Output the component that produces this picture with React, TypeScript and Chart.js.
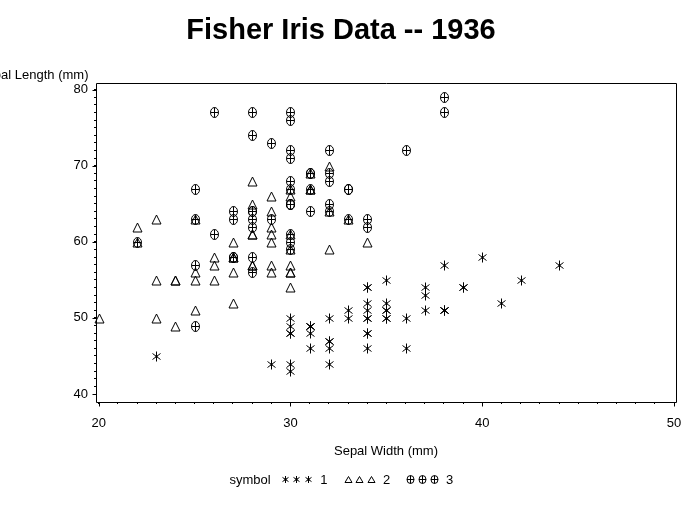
import React, { useEffect, useRef } from 'react';
import { Chart, registerables } from 'chart.js';

Chart.register(...registerables);

const FONT = "Arial, 'Liberation Sans', Helvetica, sans-serif";

const TITLE = 'Fisher Iris Data -- 1936';
const X_TITLE = 'Sepal Width (mm)';
const Y_TITLE = 'Sepal Length (mm)';
const LEGEND_TITLE = 'symbol';
const SPECIES = ['1', '2', '3'];

// Species 1 (asterisk)
const s1Width = [35, 30, 32, 31, 36, 39, 34, 34, 29, 31, 37, 34, 30, 30, 40, 44, 39, 35, 38, 38, 34, 37, 36, 33, 34, 30, 34, 35, 34, 32, 31, 34, 41, 42, 31, 32, 35, 31, 30, 34, 35, 23, 32, 35, 38, 30, 38, 32, 37, 33];
const s1Length = [51, 49, 47, 46, 50, 54, 46, 50, 44, 49, 54, 48, 48, 43, 58, 57, 54, 51, 57, 51, 54, 51, 46, 51, 48, 50, 50, 52, 52, 47, 48, 54, 52, 55, 49, 50, 55, 49, 44, 51, 50, 45, 44, 50, 51, 48, 51, 46, 53, 50];
// Species 2 (triangle)
const s2Width = [32, 32, 31, 23, 28, 28, 33, 24, 29, 27, 20, 30, 22, 29, 29, 31, 30, 27, 22, 25, 32, 28, 25, 28, 29, 30, 28, 30, 29, 26, 24, 24, 27, 27, 30, 34, 31, 23, 30, 25, 26, 30, 26, 23, 27, 30, 29, 29, 25, 28];
const s2Length = [70, 64, 69, 55, 65, 57, 63, 49, 66, 52, 50, 59, 60, 61, 56, 67, 56, 58, 62, 56, 59, 61, 63, 61, 64, 66, 68, 67, 60, 57, 55, 55, 58, 60, 54, 60, 67, 63, 56, 55, 55, 61, 58, 50, 56, 57, 57, 62, 51, 57];
// Species 3 (circle-plus)
const s3Width = [33, 27, 30, 29, 30, 30, 25, 29, 25, 36, 32, 27, 30, 25, 28, 32, 30, 38, 26, 22, 32, 28, 28, 27, 33, 32, 28, 30, 28, 30, 28, 38, 28, 28, 26, 30, 34, 31, 30, 31, 31, 31, 27, 32, 33, 30, 25, 30, 34, 30];
const s3Length = [63, 58, 71, 63, 65, 76, 49, 73, 67, 72, 65, 64, 68, 57, 58, 64, 65, 77, 77, 60, 69, 56, 77, 63, 67, 72, 62, 61, 64, 72, 74, 79, 64, 63, 61, 77, 63, 64, 60, 69, 67, 69, 58, 68, 67, 67, 63, 65, 62, 59];

const X_MAJOR = [20, 30, 40, 50];
const Y_MAJOR = [40, 50, 60, 70, 80];
const X_MIN = 19.86, X_MAX = 50.1;
const Y_MIN = 38.95, Y_MAX = 80.87;

function makeSymbol(kind: string, w: number, h: number): HTMLCanvasElement {
  const c = document.createElement('canvas');
  c.width = 13;
  c.height = 13;
  const g = c.getContext('2d')!;
  g.strokeStyle = '#000';
  g.fillStyle = '#000';
  g.lineWidth = 1;
  const cx = 6.5, cy = 6.5;
  g.beginPath();
  if (kind === 'asterisk') {
    g.moveTo(cx, cy - h / 2); g.lineTo(cx, cy + h / 2);
    g.moveTo(cx - w / 2, cy - h * 0.3); g.lineTo(cx + w / 2, cy + h * 0.3);
    g.moveTo(cx - w / 2, cy + h * 0.3); g.lineTo(cx + w / 2, cy - h * 0.3);
    g.stroke();
    g.fillRect(5.5, 5.5, 2, 2);
  } else if (kind === 'triangle') {
    g.moveTo(cx, cy - h / 2);
    g.lineTo(cx - w / 2, cy + h / 2);
    g.lineTo(cx + w / 2, cy + h / 2);
    g.closePath();
    g.stroke();
  } else {
    g.ellipse(cx, cy, w / 2, h / 2, 0, 0, Math.PI * 2);
    g.moveTo(cx, cy - h / 2); g.lineTo(cx, cy + h / 2);
    g.moveTo(cx - w / 2, cy); g.lineTo(cx + w / 2, cy);
    g.stroke();
  }
  return c;
}

export default function App() {
  const ref = useRef<HTMLCanvasElement>(null);

  useEffect(() => {
    document.body.style.margin = '0';
    const canvas = ref.current!;
    const plotSyms = [makeSymbol('asterisk', 8, 10), makeSymbol('triangle', 9, 9), makeSymbol('circle', 8, 10)];
    const legSyms = [makeSymbol('asterisk', 6, 7), makeSymbol('triangle', 7, 6), makeSymbol('circle', 7, 8)];

    const toPts = (xs: number[], ys: number[]) => xs.map((x, i) => ({ x, y: ys[i] }));

    const symbols = {
      id: 'symbols',
      afterDatasetsDraw(chart: any) {
        const { ctx } = chart;
        ctx.save();
        chart.data.datasets.forEach((_d: any, i: number) => {
          const meta = chart.getDatasetMeta(i);
          meta.data.forEach((el: any) => {
            ctx.drawImage(plotSyms[i], Math.round(el.x) - 6, Math.round(el.y) - 6);
          });
        });
        ctx.restore();
      },
    };

    const decor = {
      id: 'decor',
      afterDraw(chart: any) {
        const { ctx, chartArea: a, scales } = chart;
        const xs = scales.x, ys = scales.y;
        ctx.save();
        ctx.strokeStyle = '#000';
        ctx.lineWidth = 1;
        const L = Math.round(a.left) + 0.5, R = Math.round(a.right) + 0.5;
        const T = Math.round(a.top) + 0.5, B = Math.round(a.bottom) + 0.5;
        ctx.beginPath();
        ctx.rect(L, T, R - L, B - T);
        X_MAJOR.forEach(v => {
          const px = Math.round(xs.getPixelForValue(v)) + 0.5;
          ctx.moveTo(px, B); ctx.lineTo(px, B + 4);
        });
        Y_MAJOR.forEach(v => {
          const py = Math.round(ys.getPixelForValue(v)) + 0.5;
          ctx.moveTo(L, py); ctx.lineTo(L - 4, py);
        });
        ctx.stroke();

        ctx.fillStyle = '#000';
        ctx.textBaseline = 'alphabetic';
        ctx.font = `bold 29px ${FONT}`;
        ctx.textAlign = 'center';
        ctx.fillText(TITLE, 341, 38.5);
        ctx.font = `13px ${FONT}`;
        ctx.textAlign = 'right';
        ctx.fillText(Y_TITLE, 88.5, 78.5);
        // legend
        ctx.textAlign = 'left';
        let x = 229.5;
        const base = 483.5;
        ctx.fillText(LEGEND_TITLE, x, base);
        x += ctx.measureText(LEGEND_TITLE).width + 14;
        SPECIES.forEach((lab, i) => {
          for (let k = 0; k < 3; k++) {
            const cxp = Math.round(x + k * 11.6);
            ctx.drawImage(legSyms[i], cxp - 6, 479 - 6);
          }
          x += 2 * 11.6 + 12.4;
          ctx.fillText(lab, x, base);
          x += ctx.measureText(lab).width + 20;
        });
        ctx.restore();
      },
    };

    const minorTicks = (lo: number, hi: number) => {
      const t: { value: number }[] = [];
      for (let v = lo; v <= hi; v++) t.push({ value: v });
      return t;
    };

    const chart = new Chart(canvas, {
      type: 'scatter',
      data: {
        datasets: [
          { label: SPECIES[0], data: toPts(s1Width, s1Length), pointRadius: 0 },
          { label: SPECIES[1], data: toPts(s2Width, s2Length), pointRadius: 0 },
          { label: SPECIES[2], data: toPts(s3Width, s3Length), pointRadius: 0 },
        ],
      },
      options: {
        responsive: false,
        animation: false,
        devicePixelRatio: 1,
        layout: { padding: { top: 83, right: 20, bottom: 0, left: 0 } },
        plugins: { legend: { display: false }, title: { display: false }, tooltip: { enabled: false } },
        scales: {
          x: {
            type: 'linear',
            min: X_MIN,
            max: X_MAX,
            afterBuildTicks: (s: any) => { s.ticks = minorTicks(X_MAJOR[0], X_MAJOR[X_MAJOR.length - 1]); },
            afterFit: (s: any) => { s.height = 105; },
            ticks: {
              autoSkip: false,
              maxRotation: 0,
              minRotation: 0,
              padding: 11.5,
              color: '#000',
              font: { family: FONT, size: 13 },
              callback: (v: any) => (X_MAJOR.includes(Number(v)) ? String(v) : ''),
            },
            grid: { display: true, drawOnChartArea: false, drawTicks: true, tickLength: 2, tickColor: '#000', tickWidth: 1 },
            border: { display: false },
            title: { display: true, text: X_TITLE, color: '#000', font: { family: FONT, size: 13 }, padding: { top: 0, bottom: 47.5 } },
          },
          y: {
            type: 'linear',
            min: Y_MIN,
            max: Y_MAX,
            afterBuildTicks: (s: any) => { s.ticks = minorTicks(Y_MAJOR[0], Y_MAJOR[Y_MAJOR.length - 1]); },
            afterFit: (s: any) => { s.width = 96; },
            ticks: {
              autoSkip: false,
              padding: 6,
              color: '#000',
              font: { family: FONT, size: 13 },
              callback: (v: any) => (Y_MAJOR.includes(Number(v)) ? String(v) : ''),
            },
            grid: { display: true, drawOnChartArea: false, drawTicks: true, tickLength: 2, tickColor: '#000', tickWidth: 1 },
            border: { display: false },
          },
        },
      },
      plugins: [symbols, decor],
    });
    return () => chart.destroy();
  }, []);

  return (
    <div style={{ width: 696, height: 507 }}>
      <canvas ref={ref} width={696} height={507} style={{ display: 'block' }} />
    </div>
  );
}
